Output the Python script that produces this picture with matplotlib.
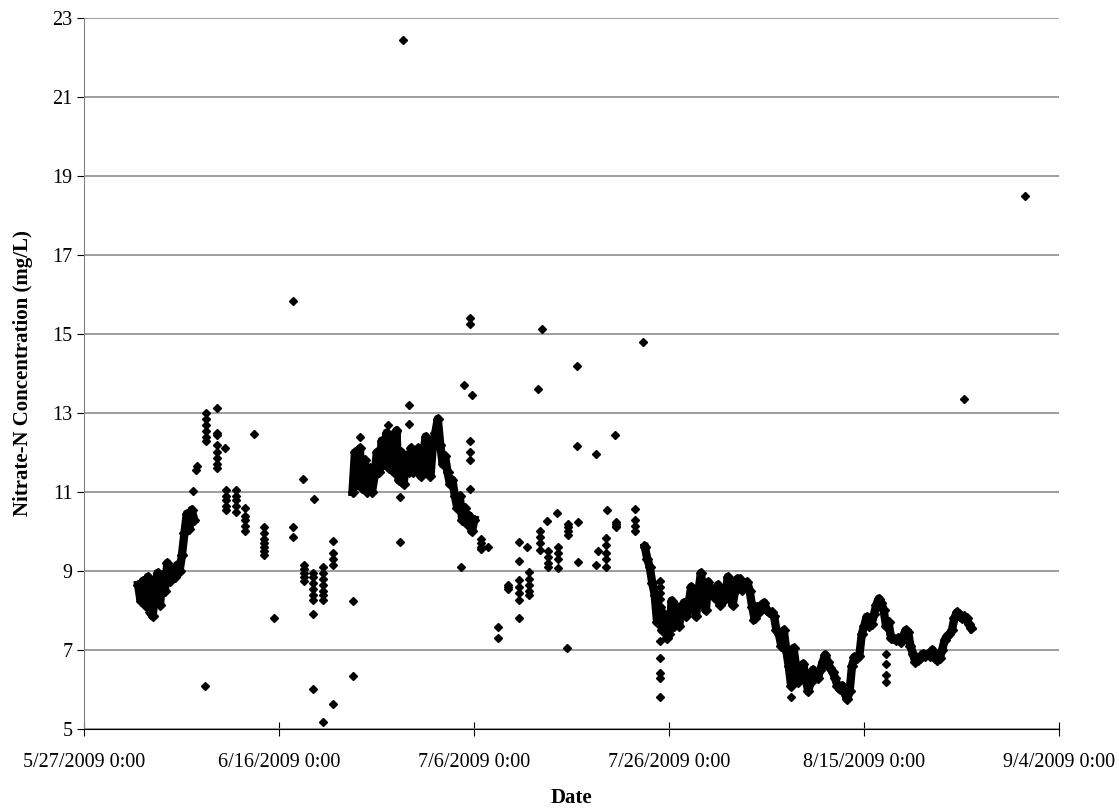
import pandas as pd
import matplotlib
matplotlib.use("Agg")
import matplotlib.pyplot as plt
import matplotlib.dates as mdates
from matplotlib.ticker import FuncFormatter

plt.rcParams['font.family'] = ['Liberation Serif', 'DejaVu Serif']

origin = pd.Timestamp('2009-05-27')

# continuous logger runs: start (days after 5/27), 6-hourly values
segA_start = 5.5
segA_vals = [8.65, 8.25, 8.75, 8.15, 8.85, 7.95, 7.85, 8.6, 8.95, 8.15, 8.9, 8.5,
             9.2, 8.75, 9.0, 8.85, 9.15, 9.0, 9.4, 9.95, 10.45, 10.05, 10.55, 10.3]

segB_start = 27.5
segB_vals = [11.0, 12.0, 11.2, 12.1, 11.1, 11.8, 11.0, 11.6, 11.0, 11.4, 12.0, 11.5,
             12.3, 11.7, 12.5, 11.6, 12.4, 11.5, 12.55, 11.3, 12.0, 11.2, 11.9, 11.5,
             12.1, 11.5, 12.0, 12.1, 11.4, 11.9, 12.4, 11.5, 11.4, 12.2, 12.5, 12.85,
             12.2, 11.7, 11.9, 11.5, 11.2, 11.3, 10.9, 10.6, 10.9, 10.3, 10.6, 10.2,
             10.4, 10.0, 10.3]

segC_start = 57.5
segC_vals = [9.6, 9.3, 9.1, 8.7, 8.4, 7.7, 8.1, 7.5, 7.9, 7.3, 7.4, 8.25,
             7.6, 8.1, 7.6, 8.0, 8.2, 7.85, 8.2, 8.6, 8.1, 7.85, 8.5, 8.95,
             8.4, 8.0, 8.72, 8.5, 8.44, 8.3, 8.65, 8.14, 8.4, 8.3, 8.85, 8.5,
             8.14, 8.5, 8.8, 8.8, 8.52, 8.6, 8.72, 8.5, 8.1, 7.8, 8.1, 7.95,
             8.15, 8.2, 8.0, 7.95, 7.95, 7.85, 7.5, 7.4, 7.1, 7.5, 7.0, 6.6,
             6.1, 7.05, 6.6, 6.2, 6.5, 6.65, 6.3, 5.95, 6.2, 6.5, 6.35, 6.3,
             6.5, 6.7, 6.88, 6.7, 6.55, 6.45, 6.3, 6.1, 6.0, 6.1, 5.9, 5.75,
             5.95, 6.6, 6.82, 6.8, 6.85, 7.4, 7.6, 7.84, 7.6, 7.65, 7.9, 8.15,
             8.3, 8.2, 8.0, 7.6, 7.7, 7.3, 7.3, 7.25, 7.3, 7.2, 7.35, 7.5,
             7.45, 7.1, 6.9, 6.7, 6.75, 6.8, 6.9, 6.85, 6.9, 6.85, 7.0, 6.8,
             6.75, 6.8, 7.0, 7.25, 7.35, 7.4, 7.5, 7.8, 7.95, 7.9, 7.8, 7.85,
             7.8, 7.65, 7.55]

# short bursts of readings (same day, several values)
burst_days = [12.45, 13.6, 14.5, 15.5, 16.5, 18.4, 21.4, 22.5, 23.45, 24.5, 25.5,
              39.6, 40.7, 42.45, 43.5, 44.6, 45.6, 46.7, 47.6, 48.6, 49.6, 53.55,
              54.5, 56.5, 59.0, 82.2]
burst_vals = [[13.0, 12.85, 12.7, 12.55, 12.4, 12.3],
              [12.5, 12.45, 12.2, 12.0, 11.85, 11.7, 11.6],
              [11.05, 10.9, 10.8, 10.65, 10.55],
              [11.05, 10.9, 10.8, 10.65, 10.5],
              [10.6, 10.4, 10.3, 10.15, 10.0],
              [10.1, 9.95, 9.8, 9.7, 9.6, 9.5, 9.4],
              [10.1, 9.85],
              [9.15, 9.05, 8.95, 8.85, 8.75],
              [8.95, 8.85, 8.7, 8.55, 8.4, 8.27],
              [9.1, 8.95, 8.8, 8.65, 8.5, 8.4, 8.27],
              [9.45, 9.3, 9.15],
              [12.3, 12.0, 11.8, 11.07],
              [9.8, 9.7, 9.6, 9.55],
              [7.58, 7.3],
              [8.65, 8.6, 8.55],
              [8.77, 8.6, 8.45, 8.27],
              [8.97, 8.8, 8.65, 8.5, 8.4],
              [10.0, 9.85, 9.7, 9.53],
              [9.5, 9.35, 9.2, 9.1],
              [9.6, 9.45, 9.3, 9.08],
              [10.2, 10.1, 10.0, 9.9],
              [9.83, 9.65, 9.45, 9.3, 9.1],
              [10.24, 10.2, 10.15, 10.1],
              [10.3, 10.15, 10.0],
              [8.75, 8.6, 8.45, 8.3, 7.23, 6.8, 6.42, 6.29, 5.8],
              [6.9, 6.65, 6.37, 6.19]]

# single readings
single_days = [11.1, 11.4, 11.5, 12.4, 13.6, 14.4, 17.4, 19.45, 21.4, 22.4, 23.45,
               23.45, 23.55, 24.5, 25.5, 25.5, 27.55, 27.55, 28.3, 31.1, 32.1, 32.4,
               32.4, 32.7, 33.3, 33.25, 38.65, 38.9, 39.6, 39.6, 39.8, 41.4, 44.6,
               44.6, 44.6, 45.4, 46.55, 46.9, 47.5, 48.5, 49.55, 50.5, 50.5, 50.6,
               50.6, 52.5, 52.5, 52.7, 53.6, 54.4, 56.5, 57.35, 57.45, 68.6, 72.5,
               90.2, 96.5]
single_vals = [11.03, 11.55, 11.65, 6.1, 13.13, 12.1, 12.47, 7.8, 15.84, 11.33, 7.9,
               6.0, 10.82, 5.18, 9.76, 5.63, 8.24, 6.34, 12.4, 12.7, 12.57, 10.87,
               9.73, 22.45, 13.2, 12.73, 9.1, 13.7, 15.4, 15.25, 13.45, 9.6, 9.73,
               9.25, 7.8, 9.6, 13.6, 15.13, 10.27, 10.47, 7.05, 14.19, 12.16, 10.24,
               9.23, 11.96, 9.15, 9.5, 10.54, 12.44, 10.57, 14.8, 9.66, 7.76, 5.8,
               13.35, 18.5]

y_ticks = [5, 7, 9, 11, 13, 15, 17, 19, 21, 23]


def to_time(days):
    return origin + pd.to_timedelta(pd.Series(days, dtype=float), unit='D')


fig = plt.figure(figsize=(11.19, 8.10), dpi=100)
ax = fig.add_axes([0.0755, 0.1, 0.871, 0.878])

for start, vals in [(segA_start, segA_vals), (segB_start, segB_vals), (segC_start, segC_vals)]:
    t = pd.date_range(origin + pd.Timedelta(days=start), periods=len(vals), freq='6h')
    ax.plot(t, vals, '-', color='black', lw=6, marker='D', ms=5, zorder=3,
            solid_joinstyle='round')

bx, by = [], []
for d, vals in zip(burst_days, burst_vals):
    bx += [d] * len(vals)
    by += vals
ax.plot(to_time(bx), by, 'D', color='black', ms=4.5, ls='none', zorder=3)
ax.plot(to_time(single_days), single_vals, 'D', color='black', ms=4.5, ls='none', zorder=3)

ax.set_xlim(pd.Timestamp('2009-05-27'), pd.Timestamp('2009-09-04'))
ax.set_ylim(5, 23)
ax.set_yticks(y_ticks)
ticks = pd.date_range('2009-05-27', '2009-09-04', freq='20D')
ax.set_xticks(ticks)
ax.xaxis.set_major_formatter(FuncFormatter(
    lambda v, p: (lambda d: f"{d.month}/{d.day}/{d.year} {d.hour}:{d.minute:02d}")(mdates.num2date(v))))

ax.grid(axis='y', color='#8c8c8c', lw=1.2)
ax.set_axisbelow(True)
for s in ['top', 'right']:
    ax.spines[s].set_visible(False)
ax.spines['left'].set_color('#808080')
ax.spines['bottom'].set_color('black')
ax.tick_params(axis='x', direction='inout', length=10, labelsize=14.5, pad=12)
ax.tick_params(axis='y', direction='out', length=5, labelsize=14.5)

ax.set_xlabel('Date', fontsize=15, fontweight='bold', labelpad=12)
ax.set_ylabel('Nitrate-N Concentration (mg/L)', fontsize=15, fontweight='bold', labelpad=14)

fig.savefig('out.png', dpi=100)
